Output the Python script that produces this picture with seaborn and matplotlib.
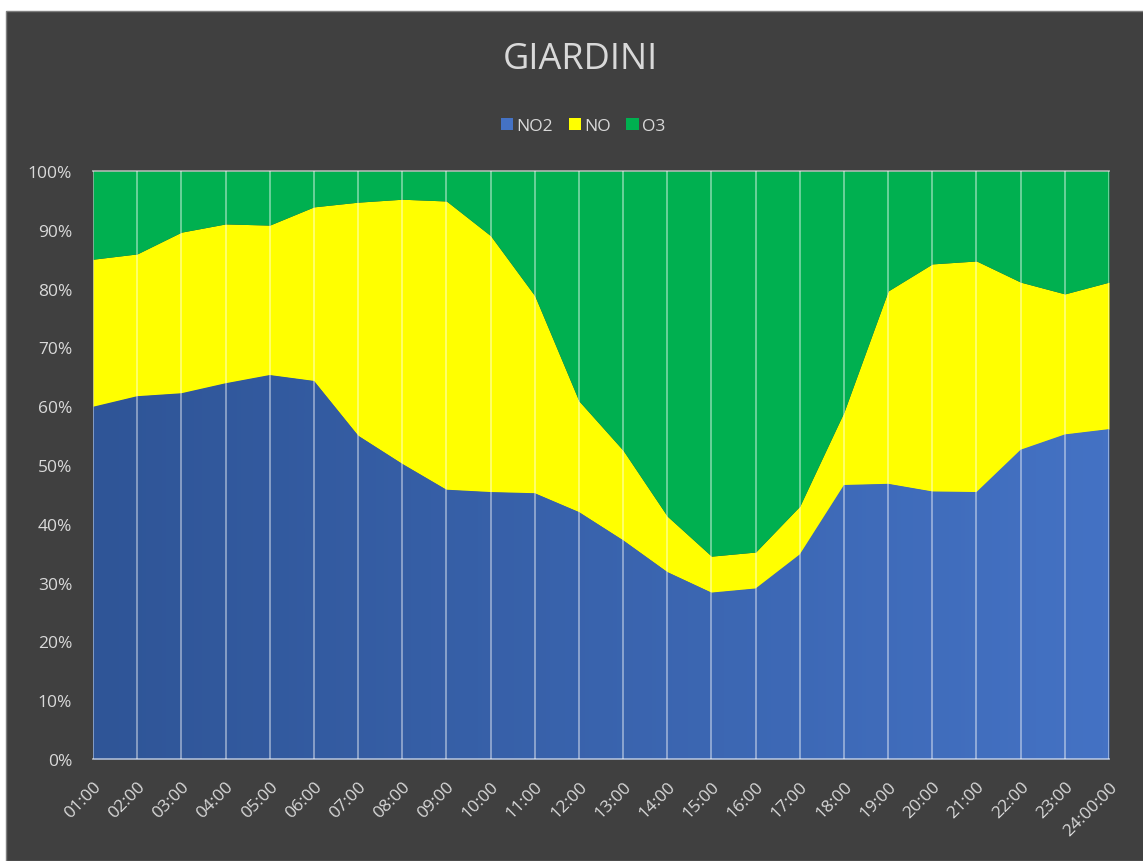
import numpy as np
import matplotlib.pyplot as plt
import seaborn as sns
from matplotlib.patches import Patch, Rectangle
from matplotlib.colors import LinearSegmentedColormap

#  DATA (share of each pollutant, %)
hours = ["01:00", "02:00", "03:00", "04:00", "05:00", "06:00", "07:00", "08:00",
         "09:00", "10:00", "11:00", "12:00", "13:00", "14:00", "15:00", "16:00",
         "17:00", "18:00", "19:00", "20:00", "21:00", "22:00", "23:00", "24:00:00"]
no2 = [59.9, 61.7, 62.2, 63.9, 65.3, 64.3, 55.0, 50.2, 45.8, 45.4, 45.2, 42.0,
       37.2, 31.8, 28.3, 29.0, 34.8, 46.6, 46.8, 45.5, 45.4, 52.6, 55.2, 56.1]
no = [25.1, 24.2, 27.4, 27.1, 25.5, 29.6, 39.7, 45.0, 49.1, 43.6, 33.6, 18.9,
      15.3, 9.5, 6.2, 6.2, 8.2, 12.4, 32.8, 38.7, 39.3, 28.5, 23.9, 25.0]
o3 = [15.0, 14.1, 10.4, 9.0, 9.2, 6.1, 5.3, 4.8, 5.1, 11.0, 21.2, 39.1,
      47.5, 58.7, 65.5, 64.8, 57.0, 41.0, 20.4, 15.8, 15.3, 18.9, 20.9, 18.9]
series = ["NO2", "NO", "O3"]
y_ticks = [0, 10, 20, 30, 40, 50, 60, 70, 80, 90, 100]

BG = "#404040"
TXT = "#D9D9D9"
colors = ["#3A64B0", "#FFFF00", "#00B050"]

sns.set_theme(style="dark")
plt.rcParams["font.family"] = ["Open Sans", "DejaVu Sans"]

W, H = 1143, 862
fig = plt.figure(figsize=(W / 100, H / 100), dpi=100, facecolor="white")
# dark chart frame (white strip left / top like the screenshot)
frame = Rectangle((6 / W, 0), 1, 1 - 12 / H, transform=fig.transFigure,
                  facecolor=BG, edgecolor="#7F7F7F", lw=1.0, zorder=-10)
fig.add_artist(frame)

ax = fig.add_axes([93 / W, 1 - 760 / H, (1109 - 93) / W, (760 - 172) / H])
ax.set_facecolor(BG)

x = np.arange(len(hours))
# 100% stacked area
tot = np.array(no2) + np.array(no) + np.array(o3)
vals = [100 * np.array(v) / tot for v in (no2, no, o3)]
polys = ax.stackplot(x, *vals, colors=colors, labels=series, lw=0, zorder=1)

# blue series has Excel-like gradient left->right
cmap = LinearSegmentedColormap.from_list("blu", ["#2F5597", "#4472C4"])
grad = np.linspace(0, 1, 256).reshape(1, -1)
im = ax.imshow(grad, cmap=cmap, aspect="auto", extent=[x[0], x[-1], 0, 100],
               zorder=1.5, interpolation="bicubic")
im.set_clip_path(polys[0].get_paths()[0], transform=ax.transData)

ax.set_xlim(x[0], x[-1])
ax.set_ylim(0, 100)
ax.set_xticks(x)
ax.set_xticklabels(hours, rotation=45, ha="right", rotation_mode="anchor",
                   color=TXT, fontsize=12.5, fontweight="medium")
ax.set_yticks(y_ticks)
ax.set_yticklabels([f"{t}%" for t in y_ticks], color=TXT, fontsize=12.5,
                   fontweight="medium")
ax.tick_params(axis="both", length=0)
ax.tick_params(axis="y", pad=15)
ax.tick_params(axis="x", pad=14)

ax.set_axisbelow(False)
ax.grid(axis="x", color="white", alpha=0.45, lw=1.3)
ax.grid(axis="y", visible=False)
for s in ["left", "right"]:
    ax.spines[s].set_visible(False)
for s in ["top", "bottom"]:
    ax.spines[s].set_color((1, 1, 1, 0.55))
    ax.spines[s].set_linewidth(1.3)
    ax.spines[s].set_zorder(3)

fig.text(580 / W, 1 - 60 / H, "GIARDINI", ha="center", va="center",
         color=TXT, fontsize=26)

handles = [Patch(facecolor=c, edgecolor="none") for c in ["#4472C4", colors[1], colors[2]]]
fig.legend(handles, series, loc="center", bbox_to_anchor=(583 / W, 1 - 127 / H),
           ncol=3, frameon=False, fontsize=12.5, labelcolor=TXT,
           handlelength=0.7, handleheight=0.7, handletextpad=0.2, columnspacing=0.9)

fig.savefig("out.png", dpi=100, facecolor=fig.get_facecolor())
